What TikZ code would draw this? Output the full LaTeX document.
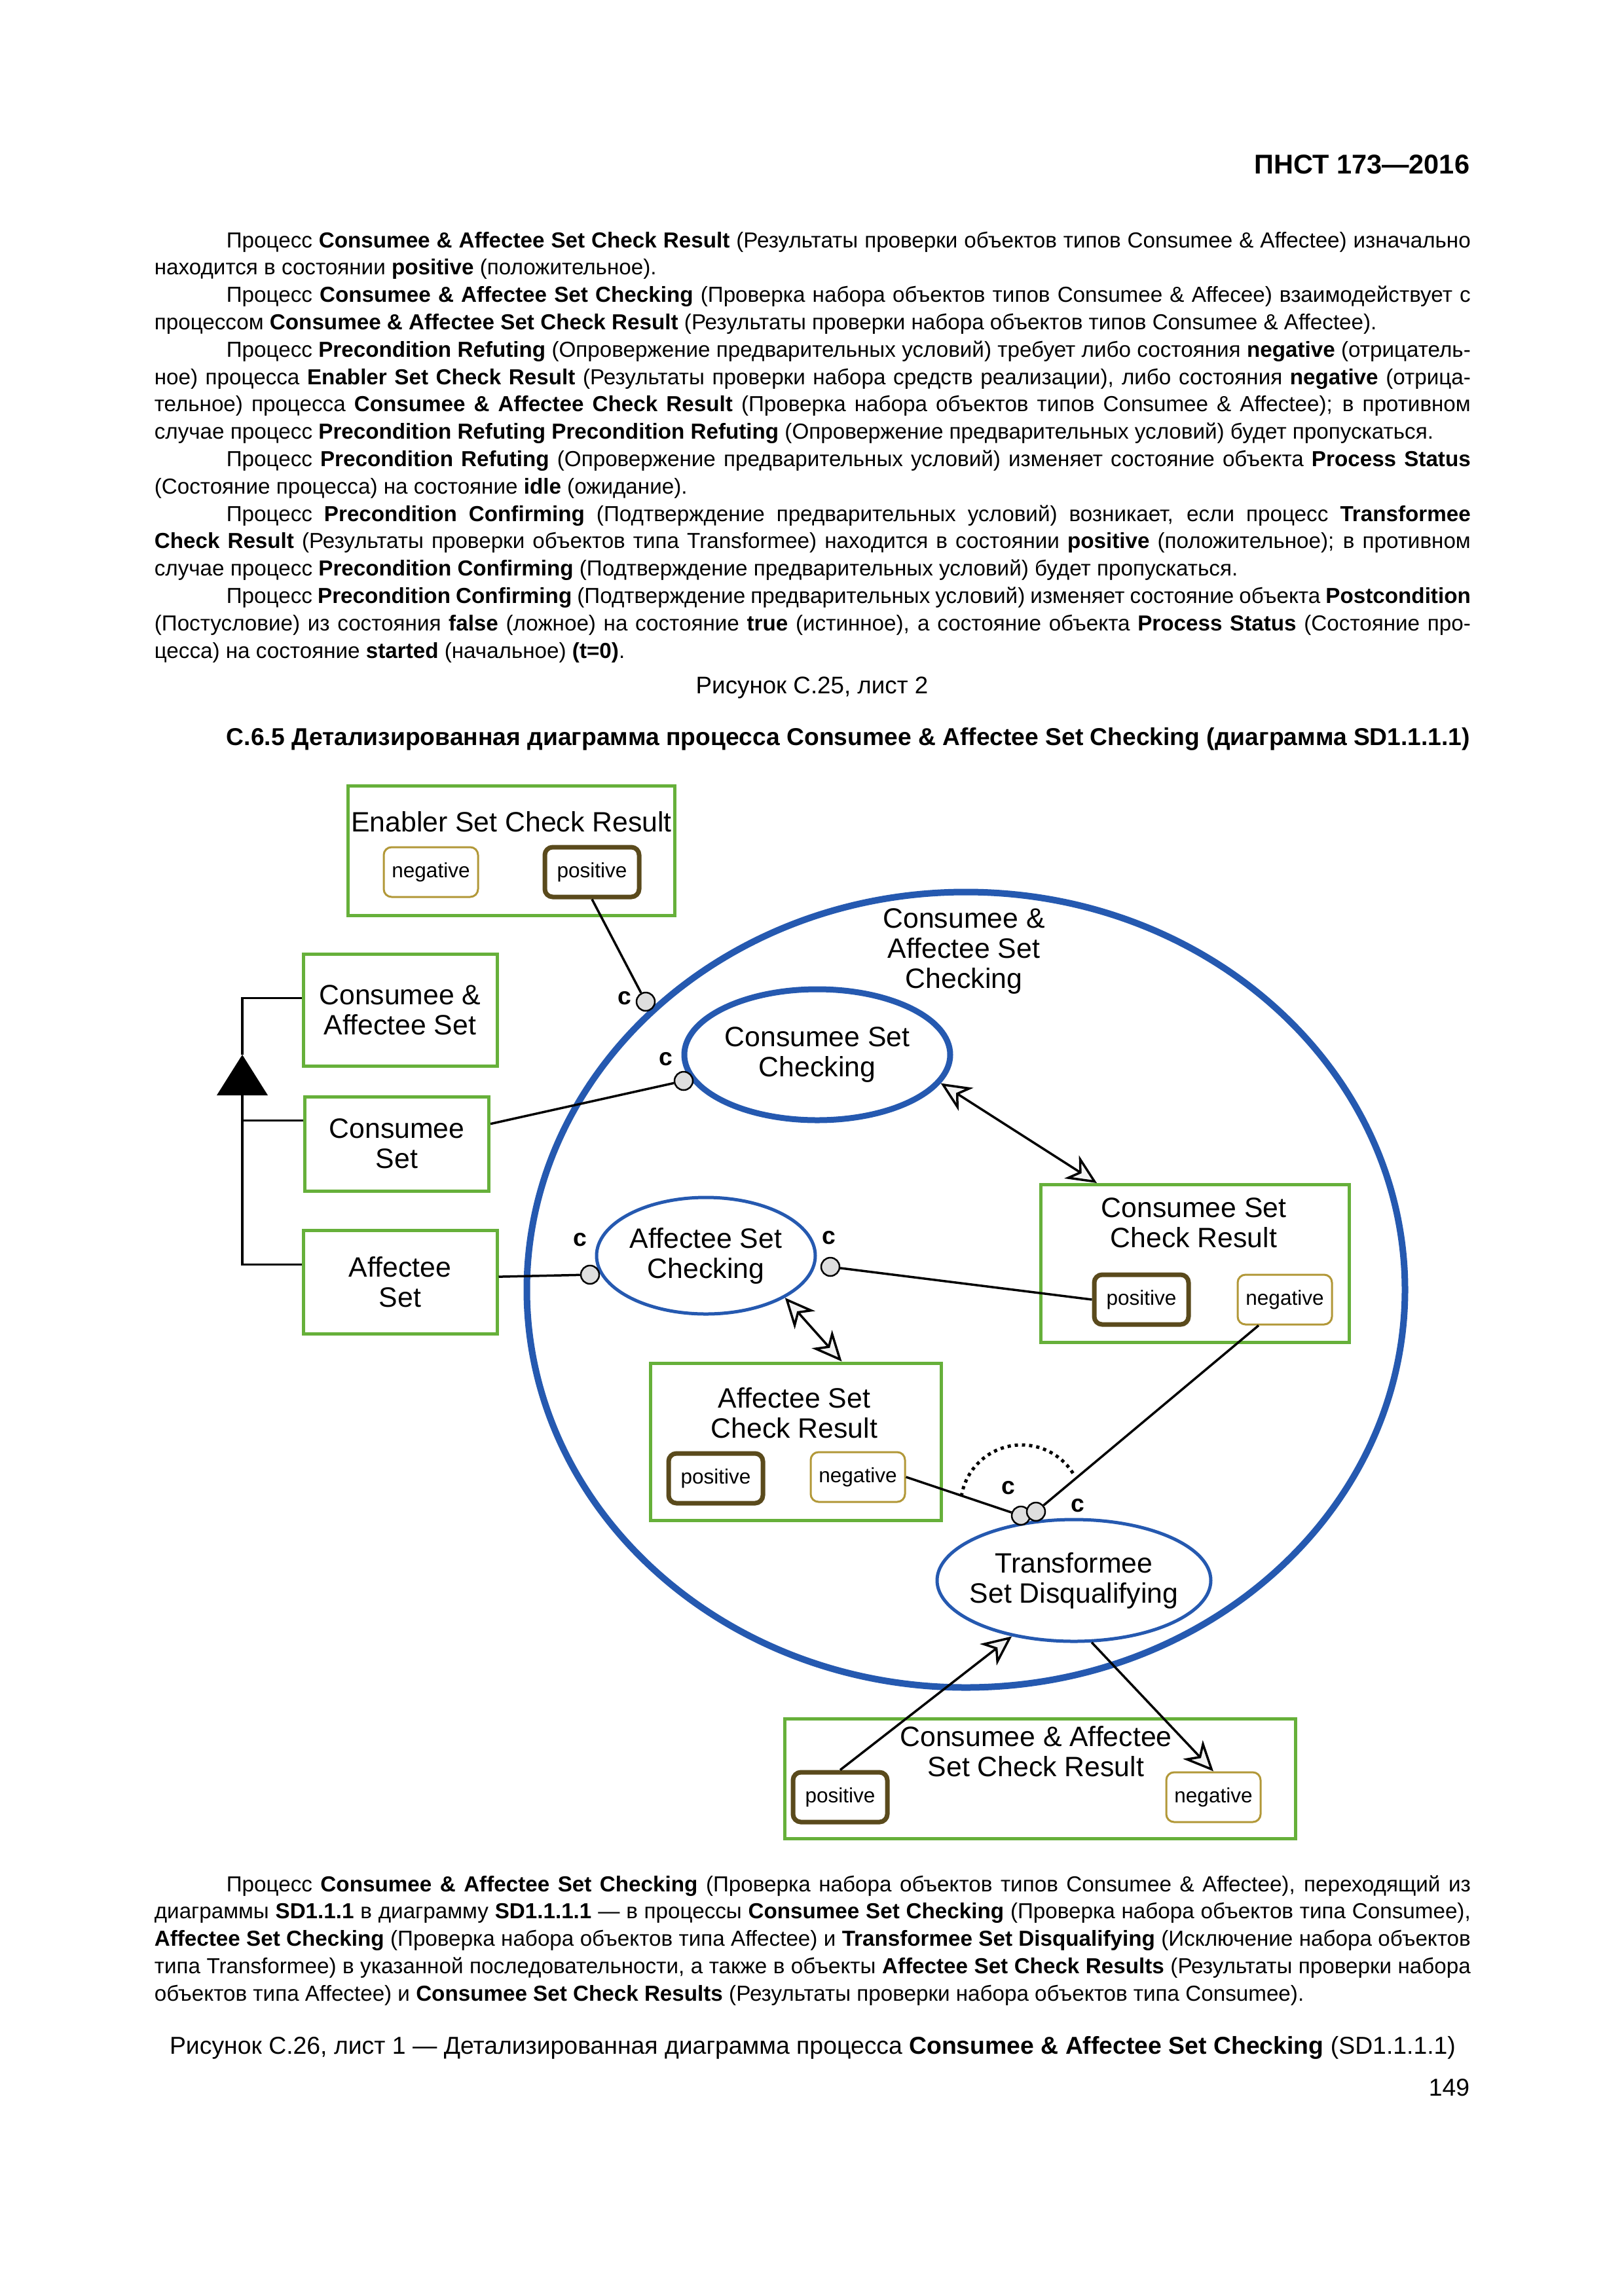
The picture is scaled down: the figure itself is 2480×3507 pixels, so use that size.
\documentclass[tikz,border=0pt]{standalone}
\usepackage{fontspec}
\setmainfont{Liberation Sans}
\usetikzlibrary{arrows.meta,shapes.geometric,calc}

\newlength{\pxu}
\setlength{\pxu}{0.0846774mm}
\definecolor{opmgreen}{RGB}{102,176,58}
\definecolor{opmblue}{RGB}{37,89,176}
\definecolor{stdark}{RGB}{90,74,28}
\definecolor{stlight}{RGB}{178,152,56}
\definecolor{cgray}{RGB}{222,222,222}
\newcommand{\txtfont}{\fontsize{8}{10.07}\selectfont}
\newcommand{\lblfont}{\fontsize{10.3}{11.1}\selectfont}
\newcommand{\stfont}{\fontsize{7.6}{8}\selectfont}
\newcommand{\clabfont}{\fontsize{9}{9}\selectfont\bfseries}
\newcommand{\abz}{\hspace*{110\pxu}}

\begin{document}
\begin{tikzpicture}[x=\pxu, y=-\pxu,
	txt/.style={inner sep=0pt, font=\txtfont},
	para/.style={txt, anchor=base west, text width=2010\pxu, align=justify},
	objbox/.style={draw=opmgreen, line width=5\pxu, fill=white, inner sep=0pt, align=center, font=\lblfont},
	ttl/.style={inner sep=0pt, align=center, font=\lblfont},
	proc/.style={ellipse, draw=opmblue, line width=5\pxu, fill=white, inner sep=0pt, align=center, font=\lblfont},
	stbase/.style={rounded corners=12\pxu, fill=white, inner sep=0pt, minimum width=144\pxu, minimum height=76\pxu, font=\stfont},
	stpos/.style={stbase, draw=stdark, line width=7\pxu},
	stneg/.style={stbase, draw=stlight, line width=3\pxu},
	cdot/.style={circle, draw=black, fill=cgray, line width=2.5\pxu, inner sep=0pt, minimum size=28\pxu},
	clab/.style={inner sep=0pt, font=\clabfont},
	link/.style={line width=3.5\pxu},
	dbl/.style={link, {Stealth[length=11pt, width=10pt, inset=3.3pt, fill=gray!10]}-{Stealth[length=11pt, width=10pt, inset=3.3pt, fill=gray!10]}},
	res/.style={link, -{Stealth[length=11pt, width=10pt, inset=3.3pt, fill=gray!10]}}]
	\fill[white] (0,0) rectangle (2480,3507);
	\useasboundingbox (0,0) rectangle (2480,3507);

	% page text above the figure
	\node[txt, anchor=base east, font=\fontsize{10}{12}\selectfont\bfseries] (hdr) at (2245,265) {ПНСТ 173—2016};
	\node[para] (txtTop) at (235,378) {%
		\abz Процесс \textbf{Consumee \& Affectee Set Check Result} (Результаты проверки объектов типов Consumee \& Affectee) изначально\linebreak
		находится в состоянии \textbf{positive} (положительное).\par
		\abz Процесс \textbf{Consumee \& Affectee Set Checking} (Проверка набора объектов типов Consumee \& Affecee) взаимодействует с\linebreak
		процессом \textbf{Consumee \& Affectee Set Check Result} (Результаты проверки набора объектов типов Consumee \& Affectee).\par
		\abz Процесс \textbf{Precondition Refuting} (Опровержение предварительных условий) требует либо состояния \textbf{negative} (отрицатель-\linebreak
		ное) процесса \textbf{Enabler Set Check Result} (Результаты проверки набора средств реализации), либо состояния \textbf{negative} (отрица-\linebreak
		тельное) процесса \textbf{Consumee \& Affectee Check Result} (Проверка набора объектов типов Consumee \& Affectee); в противном\linebreak
		случае процесс \textbf{Precondition Refuting Precondition Refuting} (Опровержение предварительных условий) будет пропускаться.\par
		\abz Процесс \textbf{Precondition Refuting} (Опровержение предварительных условий) изменяет состояние объекта \textbf{Process Status}\linebreak
		(Состояние процесса) на состояние \textbf{idle} (ожидание).\par
		\abz Процесс \textbf{Precondition Confirming} (Подтверждение предварительных условий) возникает, если процесс \textbf{Transformee}\linebreak
		\textbf{Check Result} (Результаты проверки объектов типа Transformee) находится в состоянии \textbf{positive} (положительное); в противном\linebreak
		случае процесс \textbf{Precondition Confirming} (Подтверждение предварительных условий) будет пропускаться.\par
		\abz Процесс \textbf{Precondition Confirming} (Подтверждение предварительных условий) изменяет состояние объекта \textbf{Postcondition}\linebreak
		(Постусловие) из состояния \textbf{false} (ложное) на состояние \textbf{true} (истинное), а состояние объекта \textbf{Process Status} (Состояние про-\linebreak
		цесса) на состояние \textbf{started} (начальное) \textbf{(t=0)}.};
	\node[txt, anchor=base, font=\fontsize{8.85}{10}\selectfont] (capA) at (1240,1059) {Рисунок С.25, лист 2};
	\node[txt, anchor=base west, font=\fontsize{8.97}{10}\selectfont\bfseries] (secHd) at (345,1138) {С.6.5 Детализированная диаграмма процесса Consumee \& Affectee Set Checking (диаграмма SD1.1.1.1)};

	% objects outside the zoomed process
	\node[objbox, minimum width=499\pxu, minimum height=198\pxu] (esBox) at (781,1299) {};
	\node[ttl] (esTtl) at (781,1255) {Enabler Set Check Result};
	\node[stneg] (esNeg) at (658,1332) {negative};
	\node[stpos] (esPos) at (904,1332) {positive};
	\node[objbox, minimum width=296\pxu, minimum height=171\pxu] (caSet) at (611,1543) {Consumee \&\\Affectee Set};
	\node[objbox, minimum width=281\pxu, minimum height=144\pxu] (cSet) at (606,1747) {Consumee\\Set};
	\node[objbox, minimum width=296\pxu, minimum height=158\pxu] (aSet) at (611,1958) {Affectee\\Set};

	% generalization
	\coordinate (genApex) at (370,1611);
	\coordinate (genBase) at (370,1673);
	\fill (genApex) -- ++(39,62) -- ++(-78,0) -- cycle;
	\draw[link] (caSet.173) -| (genApex);
	\draw[link] (genBase) |- (aSet.170);
	\draw[link] (cSet.166) -- (cSet.166 -| genBase);

	% zoomed-in process
	\node[proc, line width=10\pxu, fill=none, minimum width=1341\pxu, minimum height=1215\pxu] (caChk) at (1475,1970) {};
	\node[ttl] (caTtl) at (1472,1453) {Consumee \&\\Affectee Set\\Checking};
	\node[proc, line width=9\pxu, minimum width=406\pxu, minimum height=200\pxu] (csChk) at (1248,1611) {Consumee Set\\Checking};
	\node[proc, minimum width=334\pxu, minimum height=178\pxu] (asChk) at (1078,1918) {Affectee Set\\Checking};
	\node[proc, minimum width=418\pxu, minimum height=186\pxu] (tsDis) at (1640,2414) {};
	\node[ttl] (tsTtl) at (1640,2414) {Transformee\\Set Disqualifying};

	\node[objbox, minimum width=471\pxu, minimum height=241\pxu] (csRes) at (1825,1930) {};
	\node[ttl] (csTtl) at (1823,1868) {Consumee Set\\Check Result};
	\node[stpos] (csPos) at (1743,1985) {positive};
	\node[stneg] (csNeg) at (1962,1985) {negative};

	\node[objbox, minimum width=444\pxu, minimum height=240\pxu] (asRes) at (1215,2202) {};
	\node[ttl] (asTtl) at (1213,2158) {Affectee Set\\Check Result};
	\node[stpos] (asPos) at (1093,2258) {positive};
	\node[stneg] (asNeg) at (1310,2256) {negative};

	\node[objbox, minimum width=780\pxu, minimum height=183\pxu] (caRes) at (1588,2717) {};
	\node[ttl] (caResTtl) at (1582,2675) {Consumee \& Affectee\\Set Check Result};
	\node[stpos] (caPos) at (1283,2745) {positive};
	\node[stneg] (caNeg) at (1853,2745) {negative};

	% condition links
	\node[cdot] (c1) at (986,1530) {};
	\node[cdot] (c2) at (1044,1651) {};
	\node[cdot] (c3) at (901,1947) {};
	\node[cdot] (c4) at (1268,1935) {};
	\node[cdot] (c5) at (1559,2315) {};
	\node[cdot] (c6) at (1582,2309) {};
	\node[clab] (c1l) at (954,1525) {c};
	\node[clab] (c2l) at (1017,1618) {c};
	\node[clab] (c3l) at (886,1894) {c};
	\node[clab] (c4l) at (1266,1891) {c};
	\node[clab] (c5l) at (1540,2273) {c};
	\node[clab] (c6l) at (1646,2300) {c};
	\draw[link] (esPos.south) -- (c1);
	\draw[link] (cSet.12) -- (c2);
	\draw[link] (aSet.3) -- (c3);
	\draw[link] (csPos.west) -- (c4);
	\draw[link] (asNeg.east) -- (c5);
	\draw[link] ($(csNeg.south)+(-40,0)$) -- (c6);
	\coordinate (orC) at (1560,2300);
	\draw[line width=5\pxu, dash pattern=on 5\pxu off 6\pxu] ($(orC)+(-171:93)$) arc[start angle=-171, end angle=-29, radius=93];

	% effect and result links
	\draw[dbl] (csChk.-13) -- ($(csRes.north west)+(88,0)$);
	\draw[dbl] (asChk.-28) -- ($(asRes.north west)+(295,0)$);
	\draw[res] (caPos.north) -- (tsDis.-138);
	\draw[res] (tsDis.-74) -- (caNeg.north);

	% page text below the figure
	\node[para] (txtBot) at (235,2889) {%
		\abz Процесс \textbf{Consumee \& Affectee Set Checking} (Проверка набора объектов типов Consumee \& Affectee), переходящий из\linebreak
		диаграммы \textbf{SD1.1.1} в диаграмму \textbf{SD1.1.1.1} — в процессы \textbf{Consumee Set Checking} (Проверка набора объектов типа Consumee),\linebreak
		\textbf{Affectee Set Checking} (Проверка набора объектов типа Affectee) и \textbf{Transformee Set Disqualifying} (Исключение набора объектов\linebreak
		типа Transformee) в указанной последовательности, а также в объекты \textbf{Affectee Set Check Results} (Результаты проверки набора\linebreak
		объектов типа Affectee) и \textbf{Consumee Set Check Results} (Результаты проверки набора объектов типа Consumee).};
	\node[txt, anchor=base, font=\fontsize{9}{10}\selectfont] (capB) at (1241,3137) {Рисунок С.26, лист 1 — Детализированная диаграмма процесса \textbf{Consumee \& Affectee Set Checking} (SD1.1.1.1)};
	\node[txt, anchor=base east, font=\fontsize{9}{10}\selectfont] (pgNum) at (2245,3201) {149};
\end{tikzpicture}
\end{document}
